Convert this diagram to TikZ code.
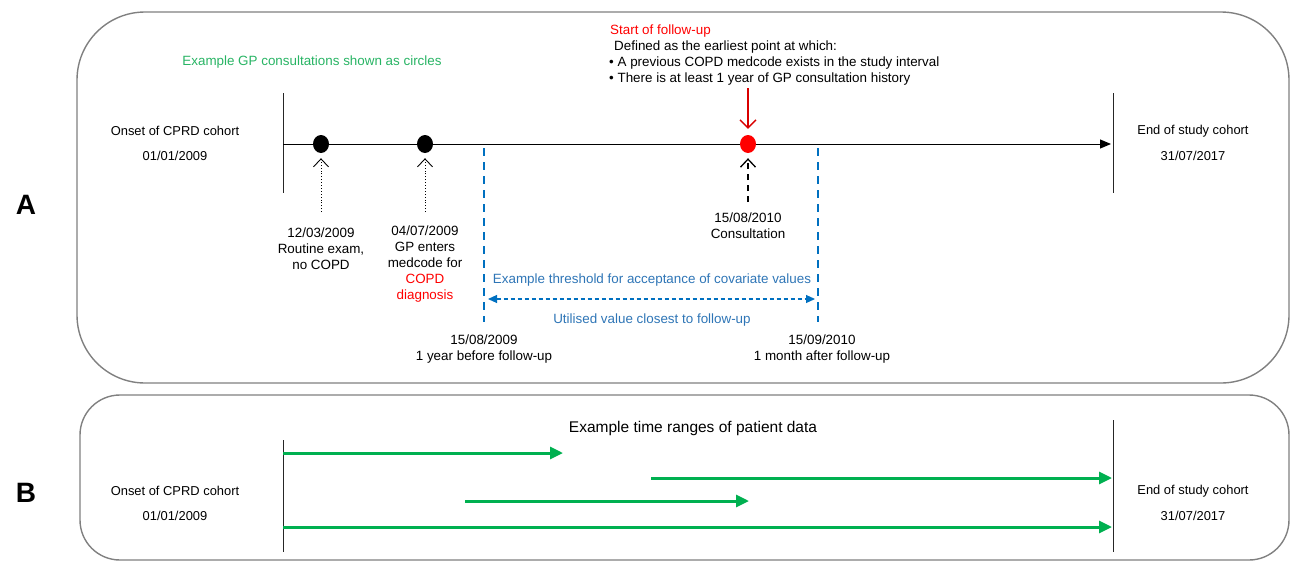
\documentclass[tikz,border=0pt]{standalone}
\usepackage{fontspec}
\setmainfont{Liberation Sans}
\usetikzlibrary{arrows.meta,shapes.geometric}
\definecolor{grn}{RGB}{0,176,80}
\definecolor{grntxt}{RGB}{40,180,100}
\definecolor{blu}{RGB}{0,112,192}
\definecolor{blutxt}{RGB}{46,117,182}
\definecolor{frame}{RGB}{128,128,128}
\definecolor{redc}{RGB}{255,0,0}
\begin{document}
\begin{tikzpicture}[x=1pt,y=-1pt,
  lbl/.style={font=\fontsize{13.4}{16}\selectfont, inner sep=0pt, align=center},
  side/.style={font=\fontsize{12.9}{16}\selectfont, inner sep=0pt, align=center},
  lbll/.style={font=\fontsize{13.4}{16}\selectfont, inner sep=0pt, align=left, anchor=west},
  panel/.style={font=\fontsize{28}{30}\selectfont\bfseries, inner sep=0pt},
  frm/.style={draw=frame, line width=1.4pt},
  tickline/.style={draw=black!85, line width=1pt},
  dotc/.style={ellipse, fill=black, minimum width=16pt, minimum height=18pt, inner sep=0pt},
  reddot/.style={ellipse, fill=redc, minimum width=16pt, minimum height=18pt, inner sep=0pt},
  mainarrow/.style={draw=black, line width=1pt, -{Triangle[length=11pt,width=9pt]}},
  dotarrow/.style={draw=black, line width=0.9pt, dotted, -{Straight Barb[length=8pt,width=15pt,line width=0.9pt]}},
  dasharrow/.style={draw=black, line width=1.7pt, dash pattern=on 6pt off 5pt, -{Straight Barb[length=8pt,width=15pt,line width=1.3pt]}},
  redarrow/.style={draw=redc!85!black, line width=1.3pt, -{Straight Barb[length=8pt,width=16pt]}},
  bluline/.style={draw=blu, line width=1.5pt, dash pattern=on 8pt off 6pt},
  bluarrow/.style={draw=blu, line width=1.1pt, dash pattern=on 4pt off 3pt, {Triangle[length=9pt,width=8pt]}-{Triangle[length=9pt,width=8pt]}},
  grnarrow/.style={draw=grn, line width=3pt, -{Triangle[length=13pt,width=12pt]}}
]
\useasboundingbox (0,0) rectangle (1291,563);

% frames
\draw[frm, rounded corners=68pt] (77,12) rectangle (1289,383);
\draw[frm, rounded corners=40pt] (80,395) rectangle (1289,560);

% panel labels
\node[panel] (pA) at (26,205) {A};
\node[panel] (pB) at (26,493) {B};

% ---------- Panel A ----------
\coordinate (a0t) at (283,93);
\coordinate (a0b) at (283,193);
\coordinate (a1t) at (1113,93);
\coordinate (a1b) at (1113,193);
\draw[tickline] (a0t) -- (a0b);
\draw[tickline] (a1t) -- (a1b);
\coordinate (tA) at (283,144);
\coordinate (tB) at (1111,144);
\draw[mainarrow] (tA) -- (tB);

\node[side] (onA) at (175,131) {Onset of CPRD cohort};
\node[side] (onAd) at (175,156) {01/01/2009};
\node[side] (endA) at (1193,131) {End of study cohort};
\node[side] (endAd) at (1193,156) {31/07/2017};

\node[lbl, text=grntxt] (gp) at (312,62) {Example GP consultations shown as circles};

\node[dotc] (c1) at (321,144) {};
\node[dotc] (c2) at (425,144) {};
\node[reddot] (c3) at (748,144) {};

\coordinate (d1) at (321,212);
\coordinate (d2) at (425,212);
\coordinate (d3) at (748,202);
\draw[dotarrow, shorten >=5pt] (d1) -- (c1);
\draw[dotarrow, shorten >=5pt] (d2) -- (c2);
\draw[dasharrow, shorten >=5pt] (d3) -- (c3);

\node[lbl] (l1) at (321,249) {12/03/2009\\Routine exam,\\no COPD};
\node[lbl] (l2) at (425,264) {04/07/2009\\GP enters\\medcode for\\\textcolor{redc}{COPD}\\\textcolor{redc}{diagnosis}};
\node[lbl] (l3) at (748,226) {15/08/2010\\Consultation};

\node[lbll, text=redc] (sf) at (610,31) {Start of follow-up};
\node[lbll] (def) at (614,47) {Defined as the earliest point at which:};
\node[lbll] (b1) at (609,63) {\textbullet\ A previous COPD medcode exists in the study interval};
\node[lbll] (b2) at (609,79) {\textbullet\ There is at least 1 year of GP consultation history};

\coordinate (ra) at (748,88);
\draw[redarrow, shorten >=6pt] (ra) -- (c3);

\coordinate (v1t) at (484,148);
\coordinate (v1b) at (484,322);
\coordinate (v2t) at (818,148);
\coordinate (v2b) at (818,322);
\draw[bluline] (v1t) -- (v1b);
\draw[bluline] (v2t) -- (v2b);
\coordinate (ba) at (488,299);
\coordinate (bb) at (815,299);
\draw[bluarrow] (ba) -- (bb);

\node[lbl, text=blutxt] (thr) at (652,280) {Example threshold for acceptance of covariate values};
\node[lbl, text=blutxt] (util) at (652,320) {Utilised value closest to follow-up};

\node[lbl] (y1) at (484,349) {15/08/2009\\1 year before follow-up};
\node[lbl] (y2) at (822,349) {15/09/2010\\1 month after follow-up};

% ---------- Panel B ----------
\coordinate (b0t) at (283,440);
\coordinate (b0b) at (283,552);
\coordinate (b1t) at (1113,420);
\coordinate (b1b) at (1113,552);
\draw[tickline] (b0t) -- (b0b);
\draw[tickline] (b1t) -- (b1b);

\node[lbl, font=\fontsize{15.5}{18}\selectfont] (tr) at (693,428) {Example time ranges of patient data};
\node[side] (onB) at (175,491) {Onset of CPRD cohort};
\node[side] (onBd) at (175,516) {01/01/2009};
\node[side] (endB) at (1193,491) {End of study cohort};
\node[side] (endBd) at (1193,516) {31/07/2017};

\coordinate (g1s) at (283,453);
\coordinate (g1e) at (563,453);
\coordinate (g2s) at (651,478);
\coordinate (g2e) at (1112,478);
\coordinate (g3s) at (465,501);
\coordinate (g3e) at (749,501);
\coordinate (g4s) at (283,527);
\coordinate (g4e) at (1112,527);
\draw[grnarrow] (g1s) -- (g1e);
\draw[grnarrow] (g2s) -- (g2e);
\draw[grnarrow] (g3s) -- (g3e);
\draw[grnarrow] (g4s) -- (g4e);
\end{tikzpicture}
\end{document}
